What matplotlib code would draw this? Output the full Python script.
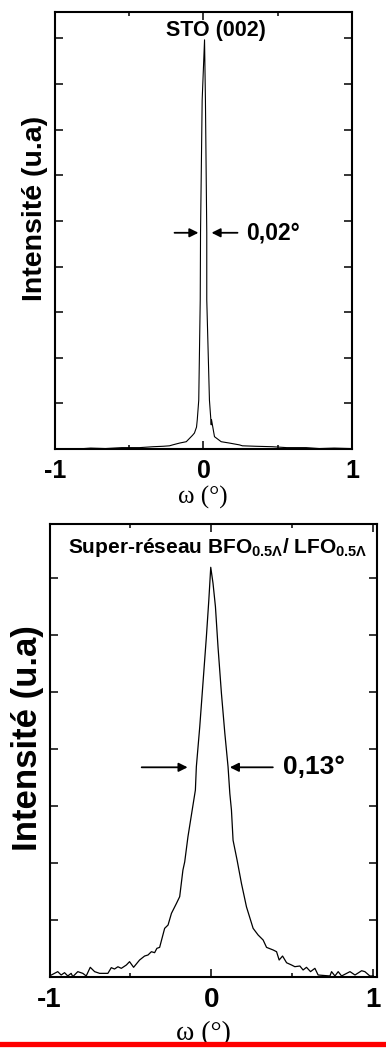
import matplotlib
matplotlib.use('Agg')
import matplotlib.pyplot as plt
from matplotlib.lines import Line2D

plt.rcParams['font.family'] = ['Liberation Sans', 'DejaVu Sans']
plt.rcParams['mathtext.fontset'] = 'custom'
plt.rcParams['mathtext.rm'] = 'Liberation Sans'
plt.rcParams['mathtext.bf'] = 'Liberation Sans:bold'
plt.rcParams['mathtext.it'] = 'Liberation Sans:italic'

# ---- data: STO (002) rocking curve ----
sto_omega = [-1.0, -0.93, -0.85, -0.76, -0.66, -0.55, -0.43, -0.34, -0.27, -0.229,
             -0.208, -0.161, -0.116, -0.074, -0.061, -0.047, -0.042, -0.032, -0.022,
             -0.020, -0.009, 0.007, 0.013, 0.022, 0.022, 0.040, 0.052, 0.054, 0.074,
             0.119, 0.175, 0.242, 0.262, 0.35, 0.464, 0.56, 0.691, 0.78, 0.88, 0.993]
sto_intensity = [0.0, 0.01, 0.0, 0.02, 0.01, 0.03, 0.03, 0.05, 0.06, 0.07,
                 0.09, 0.13, 0.16, 0.30, 0.35, 0.48, 0.64, 1.07, 3.27,
                 4.74, 7.65, 8.97, 7.65, 4.74, 3.27, 1.07, 0.53, 0.64, 0.27,
                 0.16, 0.13, 0.09, 0.07, 0.06, 0.05, 0.03, 0.03, 0.01, 0.02, 0.01]

# ---- data: superlattice BFO/LFO rocking curve ----
sl_omega = [-1.0, -0.949, -0.928, -0.907, -0.887, -0.866, -0.856, -0.825, -0.794, -0.773,
            -0.748, -0.721, -0.690, -0.639, -0.618, -0.598, -0.577, -0.556, -0.525, -0.505,
            -0.480, -0.443, -0.412, -0.391, -0.370, -0.350, -0.336, -0.319, -0.288, -0.267,
            -0.246, -0.215, -0.195, -0.175, -0.164, -0.144, -0.116, -0.098, -0.092, -0.071,
            -0.051, -0.030, -0.015, -0.003, 0.011, 0.026, 0.042, 0.063, 0.084, 0.104,
            0.115, 0.125, 0.135, 0.160, 0.187, 0.218, 0.259, 0.290, 0.321, 0.342,
            0.383, 0.404, 0.420, 0.441, 0.466, 0.497, 0.517, 0.548, 0.568, 0.589,
            0.614, 0.641, 0.661, 0.734, 0.744, 0.765, 0.785, 0.806, 0.858, 0.889,
            0.930, 0.950, 0.981, 1.002]
sl_intensity = [0.018, 0.094, 0.035, 0.076, 0.018, 0.064, 0.006, 0.094, 0.064, 0.018,
                0.17, 0.094, 0.064, 0.064, 0.164, 0.14, 0.18, 0.152, 0.21, 0.269,
                0.17, 0.298, 0.368, 0.386, 0.444, 0.427, 0.503, 0.520, 0.854, 0.912,
                1.117, 1.292, 1.41, 1.877, 2.02, 2.46, 2.96, 3.28, 3.69, 4.39,
                5.16, 5.97, 6.61, 7.19, 6.91, 6.50, 5.79, 4.98, 4.28, 3.69,
                3.22, 2.93, 2.40, 2.05, 1.64, 1.23, 0.854, 0.737, 0.649, 0.52,
                0.474, 0.444, 0.298, 0.368, 0.25, 0.21, 0.181, 0.193, 0.123, 0.17,
                0.094, 0.152, 0.035, 0.018, 0.094, 0.018, 0.094, 0.018, 0.094, 0.035,
                0.11, 0.094, 0.018, 0.018]

xticks_major = [-1, 0, 1]
xticks_minor = [-0.5, 0.5]
xtick_labels = ['-1', '0', '1']

W, H = 386, 1053
fig = plt.figure(figsize=(W / 100, H / 100), dpi=100)


def axes_px(l, t, r, b):
    return fig.add_axes([l / W, 1 - b / H, (r - l) / W, (b - t) / H])


def style(ax, nyt, labsize):
    for s in ax.spines.values():
        s.set_linewidth(1.5)
    ax.set_xticks(xticks_major)
    ax.set_xticklabels(xtick_labels)
    ax.set_xticks(xticks_minor, minor=True)
    ax.set_yticks(list(range(1, nyt + 1)))
    ax.set_yticklabels([])
    ax.tick_params(which='both', direction='in', top=True, right=True, width=1.1)
    ax.tick_params(which='major', length=6, pad=7)
    ax.tick_params(which='minor', length=3)
    for lab in ax.get_xticklabels():
        lab.set_fontweight('bold')
        lab.set_fontsize(labsize)


arrow = dict(arrowstyle='-|>', color='black', lw=1.3, mutation_scale=13, shrinkA=0, shrinkB=0)

ax1 = axes_px(55, 12, 352, 449)
ax1.plot(sto_omega, sto_intensity, color='black', lw=0.8)
ax1.set_xlim(-1, 1)
ax1.set_ylim(0, 9.58)
style(ax1, 9, 18)
ax1.text(0.087, 9.17, 'STO (002)', ha='center', va='center', fontsize=15.5, fontweight='bold')
ax1.annotate('', xy=(-0.034, 4.74), xytext=(-0.195, 4.74), arrowprops=arrow)
ax1.annotate('', xy=(0.054, 4.74), xytext=(0.229, 4.74), arrowprops=arrow)
ax1.text(0.289, 4.74, '0,02°', ha='left', va='center', fontsize=16.5, fontweight='bold')
ax1.text(-0.0673, 0.551, 'Intensité (u.a)', transform=ax1.transAxes, rotation=90,
         ha='center', va='center', fontsize=20.5, fontweight='bold')
ax1.text(0.498, -0.112, 'ω (°)', transform=ax1.transAxes, ha='center', va='center',
         fontsize=18, family='Liberation Serif')

ax2 = axes_px(49.5, 524, 377, 977)
ax2.plot(sl_omega, sl_intensity, color='black', lw=0.9)
ax2.set_xlim(-1, 1.025)
ax2.set_ylim(0, 7.95)
style(ax2, 7, 20)
ax2.text(0.040, 7.54, r'Super-réseau BFO$_{\mathbf{0.5\Lambda}}$/ LFO$_{\mathbf{0.5\Lambda}}$',
         ha='center', va='center', fontsize=15, fontweight='bold')
ax2.annotate('', xy=(-0.146, 3.68), xytext=(-0.430, 3.68), arrowprops=arrow)
ax2.annotate('', xy=(0.115, 3.68), xytext=(0.381, 3.68), arrowprops=arrow)
ax2.text(0.443, 3.68, '0,13°', ha='left', va='center', fontsize=19, fontweight='bold')
ax2.text(-0.067, 0.528, 'Intensité (u.a)', transform=ax2.transAxes, rotation=90,
         ha='center', va='center', fontsize=25, fontweight='bold')
ax2.text(0.47, -0.124, 'ω (°)', transform=ax2.transAxes, ha='center', va='center',
         fontsize=20, family='Liberation Serif')

fig.add_artist(Line2D([0, 1], [1 - 1043.5 / H, 1 - 1043.5 / H], transform=fig.transFigure,
                      color='#ff0000', lw=3.8, zorder=10))

fig.savefig('out.png', dpi=100)
